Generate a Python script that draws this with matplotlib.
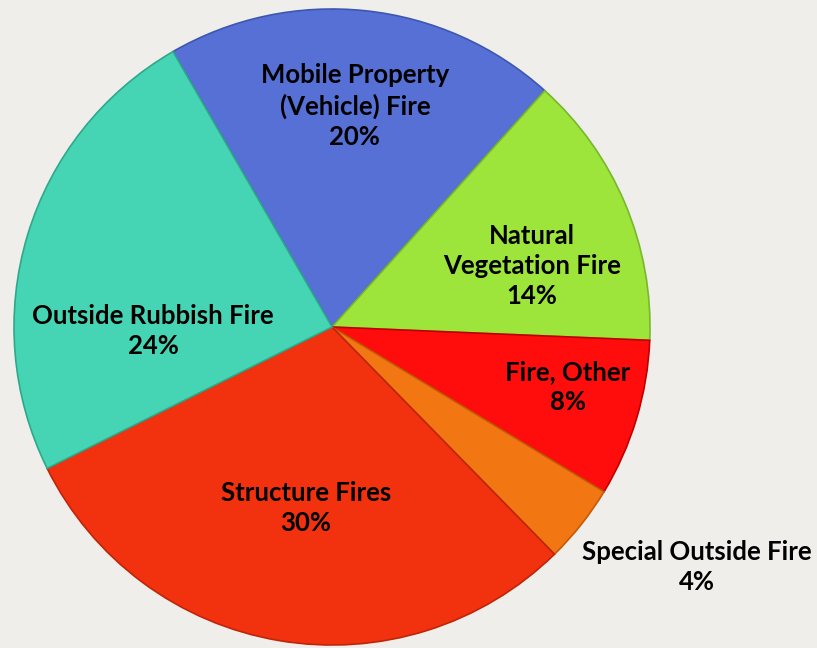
import numpy as np
import matplotlib
matplotlib.use("Agg")
import matplotlib.pyplot as plt

# ---- data ----
categories = ["Mobile Property\n(Vehicle) Fire", "Natural\nVegetation Fire", "Fire, Other",
              "Special Outside Fire", "Structure Fires", "Outside Rubbish Fire"]
shares = [20, 14, 8, 4, 30, 24]
colors = ["#5670D6", "#9DE43B", "#FF0D0D", "#F27612", "#F2320F", "#46D5B4"]
edges = ["#3F56B0", "#78B82A", "#C00000", "#C45A08", "#C02408", "#2FA88A"]

# label centres in pie units (radius = 1)
label_xy = [(0.072, 0.695), (0.629, 0.192), (0.742, -0.189),
            (1.148, -0.755), (-0.082, -0.569), (-0.563, -0.013)]

W, H = 817, 648
cx, cy, r = 332, 327, 318

fig = plt.figure(figsize=(W / 100, H / 100), dpi=100)
fig.patch.set_facecolor("#EFEEEA")
ax = fig.add_axes([(cx - r) / W, (H - cy - r) / H, 2 * r / W, 2 * r / H])
ax.set_facecolor("none")

wedges, _ = ax.pie(shares, colors=colors, startangle=120, counterclock=False,
                   radius=1, wedgeprops=dict(linewidth=1.2))
for w, ec in zip(wedges, edges):
    w.set_edgecolor(ec)

for (x, y), name, v in zip(label_xy, categories, shares):
    ax.text(x, y, f"{name}\n{v}%", ha="center", va="center", fontsize=18.5,
            fontweight="bold", family="Lato", color="black", linespacing=1.3)

ax.set_xlim(-1, 1)
ax.set_ylim(-1, 1)
ax.set_aspect("auto")
ax.axis("off")

fig.savefig("out.png", dpi=100, facecolor=fig.get_facecolor())
